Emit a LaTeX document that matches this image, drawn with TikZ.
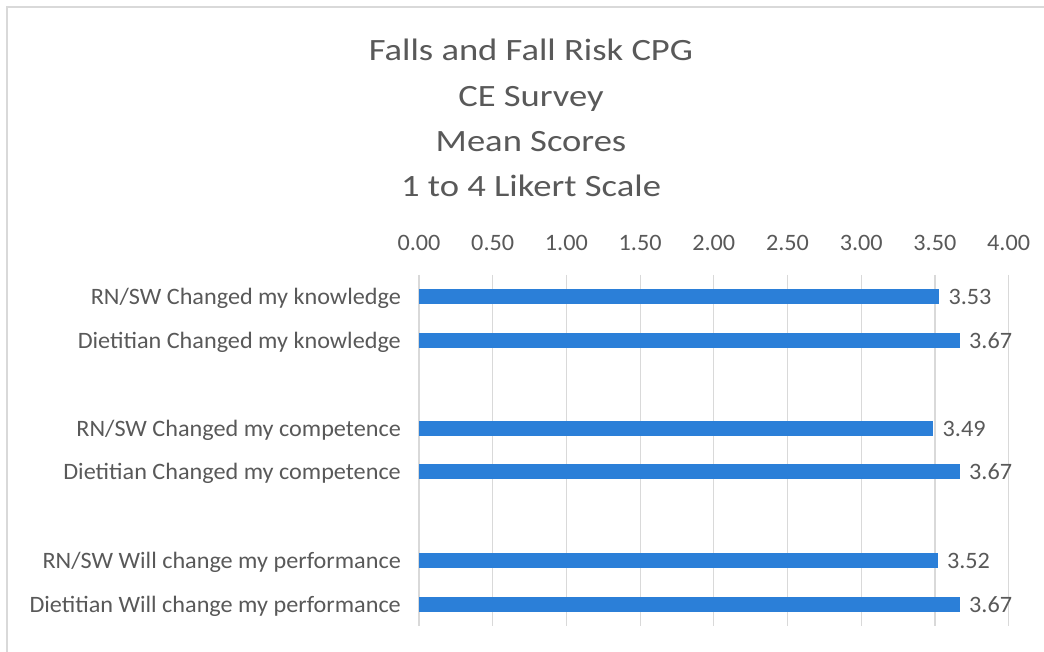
\documentclass[tikz,border=0pt]{standalone}
\usepackage{fontspec}
\setmainfont{Carlito}
\newfontfamily\titlefont[FakeStretch=1.18]{Carlito}
\newfontfamily\lblfont[FakeStretch=1.03]{Carlito}
\definecolor{txt}{HTML}{595959}
\definecolor{grid}{HTML}{D9D9D9}
\definecolor{bar}{HTML}{2B7FD8}
\begin{document}
\begin{tikzpicture}[x=1pt,y=-1pt,
  ttl/.style={text=txt,font=\titlefont\fontsize{31}{37}\selectfont,inner sep=0pt,anchor=base},
  tick/.style={text=txt,font=\lblfont\fontsize{23.5}{28}\selectfont,inner sep=0pt,anchor=base},
  cat/.style={text=txt,font=\lblfont\fontsize{23.5}{28}\selectfont,inner sep=0pt,anchor=base east},
  val/.style={text=txt,font=\lblfont\fontsize{23.5}{28}\selectfont,inner sep=0pt,anchor=base west},
  gridline/.style={draw=grid,line width=1.2pt}]
\useasboundingbox (0,0) rectangle (1044,652);
\fill[white] (0,0) rectangle (1044,652);
\draw[grid,line width=1.5pt] (7,652) -- (7,7) -- (1044,7);
% title
\node[ttl] (t1) at (531,61) {Falls and Fall Risk CPG};
\node[ttl] (t2) at (531,107) {CE Survey};
\node[ttl] (t3) at (531,152) {Mean Scores};
\node[ttl] (t4) at (531,197) {1 to 4 Likert Scale};
% grid and ticks
\foreach \v/\l [count=\i] in {0/0.00,0.5/0.50,1/1.00,1.5/1.50,2/2.00,2.5/2.50,3/3.00,3.5/3.50,4/4.00}{
  \draw[gridline] ({419+\v*147.4},275) -- ({419+\v*147.4},626);
  \node[tick] (k\i) at ({419+\v*147.4},251) {\l};
}
% bars
\foreach \y/\v/\c [count=\i] in {
  297/3.53/{RN/SW Changed my knowledge},
  340/3.67/{Dietitian Changed my knowledge},
  428/3.49/{RN/SW Changed my competence},
  471/3.67/{Dietitian Changed my competence},
  560/3.52/{RN/SW Will change my performance},
  604/3.67/{Dietitian Will change my performance}}{
  \fill[bar] (419,\y-7.5) rectangle ({419+\v*147.4},\y+7.5);
  \node[cat] (c\i) at (401,\y+8) {\c};
  \node[val] (v\i) at ({419+\v*147.4+9},\y+8) {\v};
}
\end{tikzpicture}
\end{document}
